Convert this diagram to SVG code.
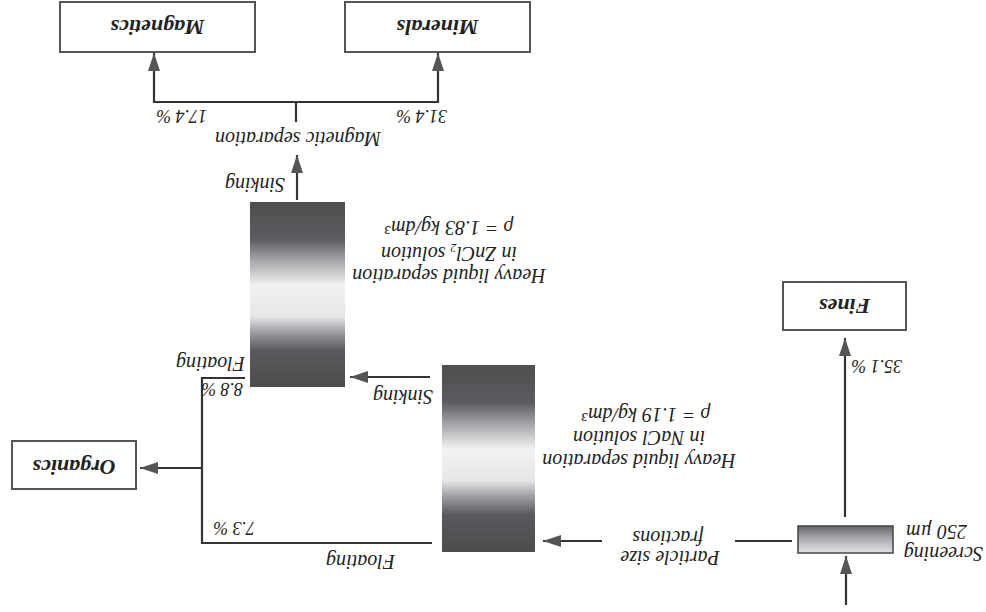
<svg xmlns="http://www.w3.org/2000/svg" width="986" height="612" viewBox="0 0 986 612">
<defs>
<style>
.t{font-family:"Liberation Serif","Times New Roman",serif;font-style:italic;font-size:20px;fill:#222}
.p{font-size:18px}
.b{font-weight:bold;font-size:22px;text-anchor:middle}
.m{text-anchor:middle}
.box{fill:#fff;stroke:#555;stroke-width:2}
.ln{fill:none;stroke:#333;stroke-width:2.2}
.ar{fill:none;stroke:#333;stroke-width:2.2;marker-end:url(#ah)}
</style>
<marker id="ah" markerUnits="userSpaceOnUse" viewBox="0 0 18 12" refX="18" refY="6" markerWidth="18" markerHeight="12" orient="auto">
<path d="M0,0 L18,6 L0,12 z" fill="#555"/>
</marker>
<linearGradient id="hl" x1="0" y1="0" x2="0" y2="1">
<stop offset="0" stop-color="#4c4c4e"/>
<stop offset="0.2" stop-color="#5a5a5e"/>
<stop offset="0.3" stop-color="#a0a0a5"/>
<stop offset="0.38" stop-color="#e6e6e8"/>
<stop offset="0.55" stop-color="#f2f2f2"/>
<stop offset="0.68" stop-color="#a8a8ac"/>
<stop offset="0.8" stop-color="#5c5c60"/>
<stop offset="1" stop-color="#4e4e50"/>
</linearGradient>
<linearGradient id="sg" x1="0" y1="0" x2="0" y2="1">
<stop offset="0" stop-color="#e4e1e8"/>
<stop offset="0.5" stop-color="#b0aeb4"/>
<stop offset="1" stop-color="#666669"/>
</linearGradient>
</defs>
<rect width="986" height="612" fill="#fff"/>
<g transform="rotate(180 493 306)">
<g id="connectors">
<path class="ar" d="M140,7 L140,56"/>
<path class="ar" d="M141,95 L141,274"/>
<path class="ln" d="M194,71 L251,71"/>
<path class="ar" d="M384,71 L443,71"/>
<path class="ar" d="M556,235 L636,235"/>
<path class="ln" d="M741,234 L784,234 L784,69 L554,69"/>
<path class="ar" d="M784,144 L846,144"/>
<path class="ar" d="M689,412 L689,457"/>
<path class="ln" d="M690,490 L690,510 M548,510 L832,510"/>
<path class="ar" d="M548,509 L548,559"/>
<path class="ar" d="M832,509 L832,559"/>
</g>
<g id="screening">
<rect x="93" y="59" width="95" height="27" fill="url(#sg)" stroke="#444" stroke-width="1.5"/>
<text class="t" x="3" y="65" font-size="14.5">Screening</text>
<text class="t" x="19" y="87" font-size="14.5">250 µm</text>
</g>
<g id="particle-size">
<text class="t m" x="316" y="61" font-size="18">Particle size</text>
<text class="t m" x="318" y="81" font-size="18">fractions</text>
</g>
<g id="fines">
<rect class="box" x="80" y="282" width="123" height="48"/>
<text class="t b" x="141.5" y="313">Fines</text>
<text class="t p" x="84" y="252">35.1 %</text>
</g>
<g id="nacl">
<rect x="451" y="60" width="93" height="187" fill="url(#hl)"/>
<text class="t m" x="347" y="158">Heavy liquid separation</text>
<text class="t m" x="347" y="181">in NaCl solution</text>
<text class="t" x="276" y="204">ρ = 1.19 kg/dm³</text>
<text class="t" x="553" y="222">Sinking</text>
<text class="t" x="591" y="57">Floating</text>
<text class="t p" x="731" y="90">7.3 %</text>
</g>
<g id="zncl2">
<rect x="641" y="225" width="95" height="185" fill="url(#hl)"/>
<text class="t m" x="537" y="343" font-size="19">Heavy liquid separation</text>
<text class="t" x="469" y="365" font-size="19">in ZnCl<tspan font-size="12" dy="3">2</tspan><tspan dy="-3"> solution</tspan></text>
<text class="t" x="473" y="391" font-size="19">ρ = 1.83 kg/dm³</text>
<text class="t" x="741" y="255">Floating</text>
<text class="t p" x="743" y="229">8.8 %</text>
<text class="t" x="701" y="434">Sinking</text>
</g>
<g id="organics">
<rect class="box" x="850" y="123" width="124" height="48"/>
<text class="t b" x="912" y="152">Organics</text>
</g>
<g id="magnetic-separation">
<text class="t m" x="688" y="480">Magnetic separation</text>
<text class="t p" x="779" y="502">17.4 %</text>
<text class="t p" x="539" y="502">31.4 %</text>
</g>
<g id="magnetics">
<rect class="box" x="731" y="560" width="195" height="50"/>
<text class="t b" x="828.5" y="592">Magnetics</text>
</g>
<g id="minerals">
<rect class="box" x="456" y="560" width="185" height="50"/>
<text class="t b" x="548.5" y="592">Minerals</text>
</g>
</g>
</svg>
